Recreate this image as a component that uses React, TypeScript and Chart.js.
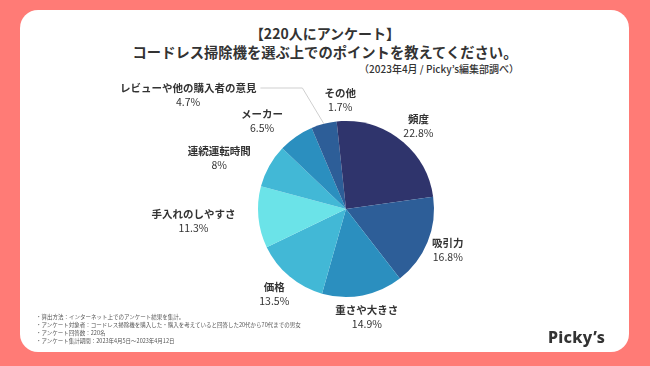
import React, { useEffect, useRef } from "react";
import { Chart, registerables } from "chart.js";

Chart.register(...registerables);

// ---- data ----
const categories = [
  "頻度",
  "吸引力",
  "重さや大きさ",
  "価格",
  "手入れのしやすさ",
  "連続運転時間",
  "メーカー",
  "レビューや他の購入者の意見",
  "その他",
];
const values = [22.8, 16.8, 14.9, 13.5, 11.3, 8, 6.5, 4.7, 1.7];
const sliceColors = [
  "#2f346c",
  "#2d5e98",
  "#2b8fbf",
  "#42b8d6",
  "#6be3e8",
  "#42b8d6",
  "#2b8fbf",
  "#2d5e98",
  "#2f346c",
];
const titleLines = [
  "【220人にアンケート】",
  "コードレス掃除機を選ぶ上でのポイントを教えてください。",
];
const subtitle = "（2023年4月 / Picky’s編集部調べ）";
const notes = [
  "・算出方法：インターネット上でのアンケート結果を集計。",
  "・アンケート対象者：コードレス掃除機を購入した・購入を考えていると回答した20代から70代までの男女",
  "・アンケート回答数：220名",
  "・アンケート集計期間：2023年4月5日〜2023年4月12日",
];
const logoText = "Picky’s";

// ---- label layout (style, not data) ----
const JP = "'Noto Sans CJK JP', 'Noto Sans', sans-serif";
const NAME_FONT = `bold 10.5px ${JP}`;
const PCT_FONT = `normal 10.5px ${JP}`;
const LINE_GAP = 14;
const BLOCK_H = 28;
const GAP = 2;
const RADIAL_NUDGE = [0, 0, 0, 1, 20, 12, 7, 0, 4];
const ANGLE_NUDGE_DEG = [0, 0, 0, 0, 1, -7.5, -9, 0, 0];
const LEADER_INDEX = 7;

const labelPlugin = {
  id: "outLabels",
  afterDatasetsDraw(chart: any) {
    const ctx = chart.ctx as CanvasRenderingContext2D;
    const meta = chart.getDatasetMeta(0);
    ctx.save();
    meta.data.forEach((arc: any, i: number) => {
      const { x, y, startAngle, endAngle, outerRadius } = arc.getProps(
        ["x", "y", "startAngle", "endAngle", "outerRadius"],
        true
      );
      const mid = (startAngle + endAngle) / 2;
      const name = categories[i];
      const pct = values[i] + "%";
      ctx.font = NAME_FONT;
      const wn = ctx.measureText(name).width;
      ctx.font = PCT_FONT;
      const wp = ctx.measureText(pct).width;
      const w = Math.max(wn, wp);
      let lx: number;
      let ly: number;
      if (i === LEADER_INDEX) {
        const p0x = x + outerRadius * Math.cos(mid);
        const p0y = y + outerRadius * Math.sin(mid);
        const elbowY = y - outerRadius - 33;
        const elbowX = p0x - (p0y - elbowY) * 0.6;
        const endX = elbowX - 42;
        ctx.strokeStyle = "#cfcfcf";
        ctx.lineWidth = 1;
        ctx.beginPath();
        ctx.moveTo(p0x, p0y);
        ctx.lineTo(elbowX, elbowY);
        ctx.lineTo(endX, elbowY);
        ctx.stroke();
        lx = endX - 4 - wn / 2;
        ly = elbowY + LINE_GAP / 2;
      } else {
        const a = mid + (ANGLE_NUDGE_DEG[i] * Math.PI) / 180;
        const dx = Math.cos(a);
        const dy = Math.sin(a);
        const d =
          outerRadius +
          GAP +
          (w / 2) * Math.abs(dx) +
          (BLOCK_H / 2) * Math.abs(dy) +
          RADIAL_NUDGE[i];
        lx = x + d * dx;
        ly = y + d * dy;
      }
      ctx.fillStyle = "#333333";
      ctx.textAlign = "center";
      ctx.textBaseline = "middle";
      ctx.font = NAME_FONT;
      ctx.fillText(name, lx, ly - LINE_GAP / 2);
      ctx.font = PCT_FONT;
      ctx.fillText(pct, lx, ly + LINE_GAP / 2);
    });
    ctx.restore();
  },
};

export default function App() {
  const canvasRef = useRef<HTMLCanvasElement | null>(null);

  useEffect(() => {
    const canvas = canvasRef.current;
    if (!canvas) return;
    const chart = new Chart(canvas, {
      type: "pie",
      data: {
        labels: categories,
        datasets: [
          {
            data: values,
            backgroundColor: sliceColors,
            borderWidth: 0,
          },
        ],
      },
      options: {
        responsive: false,
        maintainAspectRatio: false,
        animation: false,
        layout: { padding: { left: 258, right: 216, top: 121, bottom: 69 } },
        plugins: {
          legend: { display: false },
          tooltip: { enabled: false },
          title: { display: false },
        },
      },
      plugins: [labelPlugin],
    });
    return () => chart.destroy();
  }, []);

  const textBase: React.CSSProperties = {
    position: "absolute",
    whiteSpace: "nowrap",
    fontFamily: JP,
    color: "#333",
  };

  return (
    <div
      style={{
        position: "fixed",
        left: 0,
        top: 0,
        width: 650,
        height: 366,
        background: "#ff7b76",
        overflow: "hidden",
      }}
    >
      <div
        style={{
          position: "absolute",
          left: 20,
          top: 10,
          width: 609,
          height: 342,
          background: "#ffffff",
          borderRadius: 18,
        }}
      />
      <div
        style={{
          ...textBase,
          left: 0,
          width: 650,
          top: 25,
          lineHeight: "16px",
          fontSize: 14,
          fontWeight: 700,
          textAlign: "center",
        }}
      >
        {titleLines[0]}
      </div>
      <div
        style={{
          ...textBase,
          left: 0,
          width: 650,
          top: 44,
          lineHeight: "16px",
          fontSize: 14.3,
          fontWeight: 700,
          textAlign: "center",
        }}
      >
        {titleLines[1]}
      </div>
      <div
        style={{
          ...textBase,
          right: 650 - 519,
          top: 63,
          lineHeight: "12px",
          fontSize: 10,
          fontWeight: 500,
          textAlign: "right",
        }}
      >
        {subtitle}
      </div>
      <canvas
        ref={canvasRef}
        width={650}
        height={366}
        style={{ position: "absolute", left: 0, top: 0, width: 650, height: 366 }}
      />
      <div
        style={{
          ...textBase,
          left: 36,
          top: 313,
          fontSize: 5.5,
          lineHeight: "8px",
          color: "#555",
        }}
      >
        {notes.map((n, i) => (
          <div key={i}>{n}</div>
        ))}
      </div>
      <div
        style={{
          ...textBase,
          left: 548,
          top: 327,
          fontSize: 16,
          lineHeight: "20px",
          fontWeight: 800,
          fontFamily: "'Noto Sans', 'Open Sans', sans-serif",
          color: "#333",
          letterSpacing: 0.3,
        }}
      >
        {logoText}
      </div>
    </div>
  );
}
